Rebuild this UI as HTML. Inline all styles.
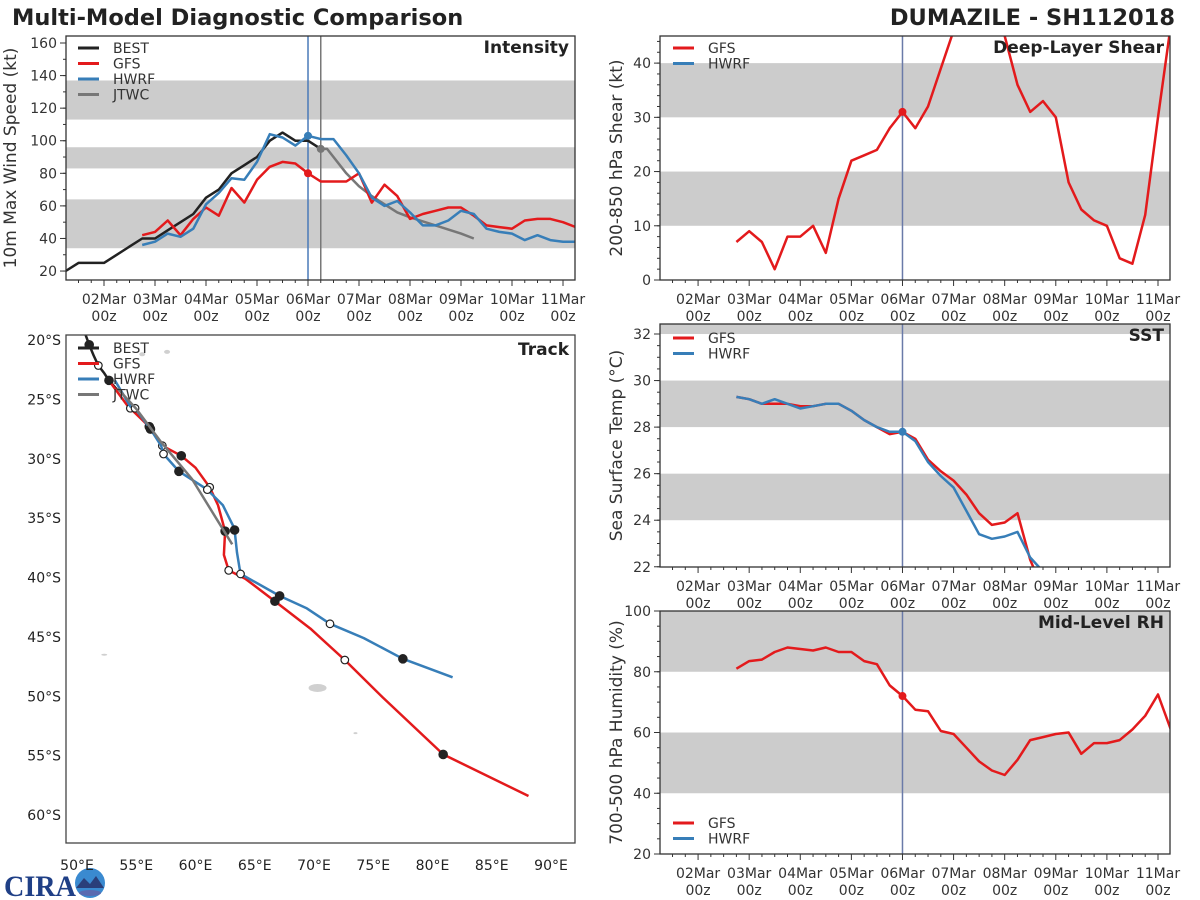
<!DOCTYPE html>
<html><head><meta charset="utf-8">
<style>
html,body{margin:0;padding:0;background:#fff;}
svg{display:block;font-family:"DejaVu Sans","Liberation Sans",sans-serif;}
</style></head>
<body>
<svg id="fig" width="1200" height="900" viewBox="0 0 1200 900" xmlns="http://www.w3.org/2000/svg">
<rect x="0" y="0" width="1200" height="900" fill="#fff"/>
<text x="12" y="25" font-size="22.5" font-weight="bold" fill="#222">Multi-Model Diagnostic Comparison</text>
<text x="1175" y="25" font-size="22.5" font-weight="bold" fill="#222" text-anchor="end">DUMAZILE - SH112018</text>
<g>
<text x="4" y="896" font-size="30" font-weight="bold" fill="#1f3f86" font-family="Liberation Serif, serif" textLength="72" lengthAdjust="spacingAndGlyphs">CIRA</text>
<circle cx="90" cy="883" r="15" fill="#3a8ad0"/>
<path d="M76 888 L84 878 L90 884 L96 876 L104 888 Z" fill="#2a3f7a"/>
<ellipse cx="90" cy="893" rx="11" ry="3" fill="#5a6ab0"/>
</g>
</svg>
<script>
// ---------- DATA ----------
const dayLabels = ["02Mar","03Mar","04Mar","05Mar","06Mar","07Mar","08Mar","09Mar","10Mar","11Mar"];
const dayValues = [2,3,4,5,6,7,8,9,10,11];
// Intensity (kt), 6-hourly
const bestStart = 1.25;
const bestVmax = [20,25,25,25,30,35,40,40,45,50,55,65,70,80,85,90,100,105,100,100,95];
const gfsStart = 2.75;
const gfsVmax = [42,44,51,42,52,59,54,71,62,76,84,87,86,80,75,75,75,80,62,73,66,52,55,57,59,59,54,48,47,46,51,52,52,50,47];
const hwrfStart = 2.75;
const hwrfVmax = [36,38,43,41,46,61,68,77,76,87,104,102,97,103,101,101,91,80,65,60,63,56,48,48,51,57,55,46,44,43,39,42,39,38,38];
const jtwcTimes = [6.25,6.375,6.75,7.0,7.25,7.5,7.75,8.0,8.5,9.0,9.25];
const jtwcVmax = [95,95,80,72,66,61,56,53,48,43,40];
const intBands = [[34,64],[83,96],[113,137]];
// Shear (kt)
const shearStart = 2.75;
const gfsShear = [7,9,7,2,8,8,10,5,15,22,23,24,28,31,28,32,39,46,55,58,52,45,36,31,33,30,18,13,11,10,4,3,12,30,47];
const shearBands = [[10,20],[30,40]];
// SST (C)
const sstStart = 2.75;
const gfsSst = [29.3,29.2,29.0,29.0,29.0,28.9,28.9,29.0,29.0,28.7,28.3,28.0,27.7,27.8,27.5,26.6,26.1,25.7,25.1,24.3,23.8,23.9,24.3,22.3,21.0];
const hwrfSst = [29.3,29.2,29.0,29.2,29.0,28.8,28.9,29.0,29.0,28.7,28.3,28.0,27.8,27.8,27.4,26.5,25.9,25.4,24.4,23.4,23.2,23.3,23.5,22.4,21.8];
const sstBands = [[24,26],[28,30],[32,33]];
// RH (%)
const rhStart = 2.75;
const gfsRh = [81,83.5,84,86.5,88,87.5,87,88,86.5,86.5,83.5,82.5,75.5,72,67.5,67,60.5,59.5,55,50.5,47.5,46,51,57.5,58.5,59.5,60,53,56.5,56.5,57.5,61,65.5,72.5,61];
const rhBands = [[40,60],[80,100]];
// Track: lon, lat(S), marker (0 none, 1 filled, 2 open)
const bestLon = [50.7,51.03,51.4,51.8,52.3,52.7,53.4];
const bestLat = [19.5,20.4,21.3,22.15,22.8,23.4,24.2];
const bestMk  = [0,1,0,2,0,1,0];
const gfsLon = [52.9,54.2,54.5,56.1,57.2,58.8,60.0,61.2,61.9,62.5,62.4,62.8,64.2,66.7,69.7,72.6,75.8,80.9,88.1];
const gfsLat = [23.7,25.45,25.75,27.3,28.9,29.75,30.75,32.4,33.9,36.1,38.1,39.4,40.1,42.0,44.3,46.95,50.1,54.9,58.4];
const gfsMk  = [0,0,2,1,2,1,0,2,0,1,0,2,0,1,0,2,0,1,0];
const hwrfLon = [53.2,54.5,54.9,56.2,57.1,57.3,58.6,61.0,62.3,63.2,63.3,63.5,63.8,67.1,69.4,71.35,74.2,77.5,81.7];
const hwrfLat = [23.4,25.6,25.75,27.5,28.9,29.6,31.06,32.6,33.9,35.7,36.0,37.9,39.7,41.55,42.6,43.9,45.1,46.85,48.4];
const hwrfMk  = [0,0,2,1,0,2,1,2,0,0,1,0,2,1,0,2,0,1,0];
const jtwcLon = [53.4,55.0,57.1,59.7,63.1];
const jtwcLat = [24.05,25.8,28.6,31.7,37.2];
const lonTicks = [50,55,60,65,70,75,80,85,90];
const latTicks = [20,25,30,35,40,45,50,55,60];

// ---------- DRAW ----------
const NS="http://www.w3.org/2000/svg";
const svg=document.getElementById('fig');
const C={best:"#222222",gfs:"#e31a1c",hwrf:"#377eb8",jtwc:"#777777"};
function mk(tag,parent){const e=document.createElementNS(NS,tag);parent.appendChild(e);return e;}
function set(e,o){for(const k in o)e.setAttribute(k,o[k]);return e;}

function panel(p){
  const g=mk('g',svg);
  
  
  const sx=t=>p.x0+(t-p.tmin)*(p.x1-p.x0)/(p.tmax-p.tmin);
  const sy=v=>p.y1-(v-p.vmin)*(p.y1-p.y0)/(p.vmax-p.vmin);
  const cid='clip-'+p.name;
  const cp=mk('clipPath',g); cp.setAttribute('id',cid);
  set(mk('rect',cp),{x:p.x0,y:p.y0,width:p.x1-p.x0,height:p.y1-p.y0});
  const body=mk('g',g); body.setAttribute('clip-path','url(#'+cid+')');
  p.bands.forEach(b=>{
    const r=mk('rect',body);
    
    
    set(r,{x:p.x0,y:sy(b[1]),width:p.x1-p.x0,height:sy(b[0])-sy(b[1]),fill:"#cccccc"});
  });
  const tg=mk('g',g);
  for(let t=Math.ceil(p.tmin*4)/4;t<=p.tmax+1e-6;t+=0.25){
    const maj=Math.abs(t-Math.round(t))<1e-6;
    set(mk('line',tg),{x1:sx(t),x2:sx(t),y1:p.y1,y2:p.y1+(maj?6:3),stroke:"#333","stroke-width":1});
  }
  dayValues.forEach((d,i)=>{
    const tx=mk('text',tg);
    
    
    set(tx,{x:sx(d),y:p.y1+24,"font-size":14,"text-anchor":"middle",fill:"#333"});
    tx.textContent=dayLabels[i];
    const tz=mk('text',tg);
    
    
    set(tz,{x:sx(d),y:p.y1+41,"font-size":14,"text-anchor":"middle",fill:"#333"});
    tz.textContent="00z";
  });
  for(let v=p.vmin0;v<=p.vmax+1e-6;v+=p.minor){
    set(mk('line',tg),{x1:p.x0,x2:p.x0-3,y1:sy(v),y2:sy(v),stroke:"#333","stroke-width":1});
  }
  p.yticks.forEach(v=>{
    set(mk('line',tg),{x1:p.x0,x2:p.x0-6,y1:sy(v),y2:sy(v),stroke:"#333","stroke-width":1});
    const tx=mk('text',tg);
    
    
    set(tx,{x:p.x0-9,y:sy(v)+5,"font-size":14,"text-anchor":"end",fill:"#333"});
    tx.textContent=v;
  });
  const yl=mk('text',g);
  
  
  const cy=(p.y0+p.y1)/2;
  set(yl,{x:p.ylx,y:cy,"font-size":17,"text-anchor":"middle",fill:"#333",transform:`rotate(-90 ${p.ylx} ${cy})`});
  yl.textContent=p.ylabel;
  return {g,body,sx,sy};
}
function series(P,start,vals,color,name){
  const pts=vals.map((v,i)=>P.sx(start+i*0.25).toFixed(1)+","+P.sy(v).toFixed(1)).join(" ");
  const l=mk('polyline',P.body);
  
  
  set(l,{points:pts,fill:"none",stroke:color,"stroke-width":2.5,"stroke-linejoin":"round"});
}
function seriesT(P,times,vals,color,name){
  const pts=vals.map((v,i)=>P.sx(times[i]).toFixed(1)+","+P.sy(v).toFixed(1)).join(" ");
  const l=mk('polyline',P.body);
  
  
  set(l,{points:pts,fill:"none",stroke:color,"stroke-width":2.5,"stroke-linejoin":"round"});
}
function vline(P,t,color,name,p){
  const l=mk('line',P.body);
  
  
  set(l,{x1:P.sx(t),x2:P.sx(t),y1:p.y0,y2:p.y1,stroke:color,"stroke-width":1.5});
}
function dot(P,t,v,color,name){
  const c=mk('circle',P.body);
  
  
  set(c,{cx:P.sx(t),cy:P.sy(v),r:4,fill:color});
}
function frame(p,P,title){
  const r=mk('rect',P.g);
  
  
  set(r,{x:p.x0,y:p.y0,width:p.x1-p.x0,height:p.y1-p.y0,fill:"none",stroke:"#333","stroke-width":1.3});
  const t=mk('text',P.g);
  
  
  set(t,{x:p.x1-6,y:p.y0+17,"font-size":17,"font-weight":"bold","text-anchor":"end",fill:"#222"});
  t.textContent=title;
}
function legend(g,x,y,items){
  items.forEach((it,i)=>{
    const e=mk('g',g);
    
    
    set(mk('line',e),{x1:x,x2:x+21,y1:y+i*15.5,y2:y+i*15.5,stroke:it[1],"stroke-width":3});
    const t=mk('text',e);
    set(t,{x:x+35,y:y+i*15.5+5,"font-size":14,fill:"#333"});
    t.textContent=it[0];
  });
}
const T0=1.255,T1=11.235;
const p1={name:'intensity-panel',x0:66,x1:575,y0:36,y1:280,tmin:T0,tmax:T1,vmin:14.5,vmax:164.3,vmin0:20,minor:10,yticks:[20,40,60,80,100,120,140,160],bands:intBands,ylabel:"10m Max Wind Speed (kt)",ylx:16};
const P1=panel(p1);
vline(P1,6,"#4a7ab8",'analysis-time-line',p1);
vline(P1,6.25,"#777",'jtwc-time-line',p1);
series(P1,bestStart,bestVmax,C.best,'best-intensity-line');
seriesT(P1,jtwcTimes,jtwcVmax,C.jtwc,'jtwc-intensity-line');
series(P1,gfsStart,gfsVmax,C.gfs,'gfs-intensity-line');
series(P1,hwrfStart,hwrfVmax,C.hwrf,'hwrf-intensity-line');
dot(P1,6,gfsVmax[13],C.gfs,'gfs-analysis-dot');
dot(P1,6,hwrfVmax[13],C.hwrf,'hwrf-analysis-dot');
dot(P1,6.25,jtwcVmax[0],C.jtwc,'jtwc-analysis-dot');
frame(p1,P1,"Intensity");
legend(P1.g,78,48,[["BEST",C.best],["GFS",C.gfs],["HWRF",C.hwrf],["JTWC",C.jtwc]]);
const p2={name:'shear-panel',x0:660,x1:1170,y0:36,y1:280,tmin:T0,tmax:T1,vmin:0,vmax:45,vmin0:0,minor:2,yticks:[0,10,20,30,40],bands:shearBands,ylabel:"200-850 hPa Shear (kt)",ylx:622};
const P2=panel(p2);
vline(P2,6,"#6a7aa8",'analysis-time-line',p2);
series(P2,shearStart,gfsShear,C.gfs,'gfs-shear-line');
dot(P2,6,gfsShear[13],C.gfs,'gfs-shear-dot');
frame(p2,P2,"Deep-Layer Shear");
legend(P2.g,673,48,[["GFS",C.gfs],["HWRF",C.hwrf]]);
const p3={name:'sst-panel',x0:660,x1:1170,y0:324,y1:567,tmin:T0,tmax:T1,vmin:21.99,vmax:32.43,vmin0:22,minor:0.5,yticks:[22,24,26,28,30,32],bands:sstBands,ylabel:"Sea Surface Temp (°C)",ylx:622};
const P3=panel(p3);
vline(P3,6,"#6a7aa8",'analysis-time-line',p3);
series(P3,sstStart,gfsSst,C.gfs,'gfs-sst-line');
series(P3,sstStart,hwrfSst,C.hwrf,'hwrf-sst-line');
dot(P3,6,hwrfSst[13],C.hwrf,'hwrf-sst-dot');
frame(p3,P3,"SST");
legend(P3.g,673,338,[["GFS",C.gfs],["HWRF",C.hwrf]]);
const p4={name:'rh-panel',x0:660,x1:1170,y0:611,y1:854,tmin:T0,tmax:T1,vmin:20,vmax:100,vmin0:20,minor:5,yticks:[20,40,60,80,100],bands:rhBands,ylabel:"700-500 hPa Humidity (%)",ylx:622};
const P4=panel(p4);
vline(P4,6,"#6a7aa8",'analysis-time-line',p4);
series(P4,rhStart,gfsRh,C.gfs,'gfs-rh-line');
dot(P4,6,gfsRh[13],C.gfs,'gfs-rh-dot');
frame(p4,P4,"Mid-Level RH");
legend(P4.g,673,823,[["GFS",C.gfs],["HWRF",C.hwrf]]);

(function(){
  const x0=66,x1=575,y0=335,y1=843;
  const lx=lon=>77+(lon-50)*11.85;
  const ly=lat=>340+(lat-20)*11.875;
  const g=mk('g',svg);
  
  
  const cp=mk('clipPath',g); cp.setAttribute('id','clip-track');
  set(mk('rect',cp),{x:x0,y:y0,width:x1-x0,height:y1-y0});
  const body=mk('g',g); body.setAttribute('clip-path','url(#clip-track)');
  [[57.6,21.0,3,2],[55.5,21.2,3,2],[70.3,49.3,9,4],[52.3,46.5,3,1],[73.5,53.1,2,1]].forEach(a=>{
    const e=mk('ellipse',body);
    
    
    set(e,{cx:lx(a[0]),cy:ly(a[1]),rx:a[2],ry:a[3],fill:"#d0d0d0"});
  });
  function track(lons,lats,mks,color,name){
    const pts=lons.map((v,i)=>lx(v).toFixed(1)+","+ly(lats[i]).toFixed(1)).join(" ");
    const l=mk('polyline',body);
    
    
    set(l,{points:pts,fill:"none",stroke:color,"stroke-width":2.5,"stroke-linejoin":"round"});
    if(mks) mks.forEach((m,i)=>{ if(!m) return;
      const c=mk('circle',body);
      
      
      set(c,{cx:lx(lons[i]),cy:ly(lats[i]),r:m===1?4.2:3.8,fill:m===1?"#222":"#fff",stroke:"#222","stroke-width":1.2});
    });
  }
  track(bestLon,bestLat,bestMk,C.best,'best-track');
  track(gfsLon,gfsLat,gfsMk,C.gfs,'gfs-track');
  track(hwrfLon,hwrfLat,hwrfMk,C.hwrf,'hwrf-track');
  track(jtwcLon,jtwcLat,null,C.jtwc,'jtwc-track');
  lonTicks.forEach(v=>{
    const t=mk('text',g);
    
    
    set(t,{x:lx(v),y:870,"font-size":14,"text-anchor":"middle",fill:"#222"});
    t.textContent=v+"°E";
  });
  latTicks.forEach(v=>{
    const t=mk('text',g);
    
    
    set(t,{x:61,y:ly(v)+5,"font-size":14,"text-anchor":"end",fill:"#222"});
    t.textContent=v+"°S";
  });
  const r=mk('rect',g);
  
  
  set(r,{x:x0,y:y0,width:x1-x0,height:y1-y0,fill:"none",stroke:"#444","stroke-width":1.3});
  const t=mk('text',g);
  
  
  set(t,{x:x1-6,y:y0+20,"font-size":17,"font-weight":"bold","text-anchor":"end",fill:"#222"});
  t.textContent="Track";
  legend(g,78,348,[["BEST",C.best],["GFS",C.gfs],["HWRF",C.hwrf],["JTWC",C.jtwc]]);
})();
</script>
</body></html>
